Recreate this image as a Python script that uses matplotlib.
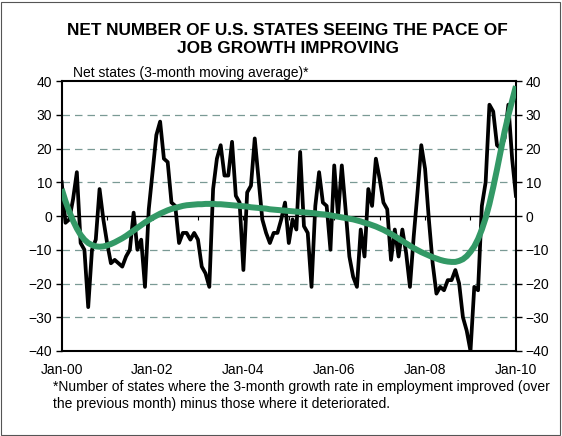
import numpy as np
import matplotlib
matplotlib.use("Agg")
from matplotlib import pyplot as plt
from matplotlib.patches import Rectangle

plt.rcParams['font.family'] = ['Liberation Sans', 'DejaVu Sans']

# monthly readings, Jan-00 .. Jan-10
net_states = [10, -2, -1, 5, 13, -8, -10, -27, -10, -7,
              8, -1, -8, -14, -13, -14, -15, -12, -10, 1,
              -10, -7, -21, 2, 13, 24, 28, 17, 16, 4,
              3, -8, -5, -5, -7, -5, -7, -15, -17, -21,
              8, 17, 21, 12, 12, 22, 6, 4, -16, 7,
              9, 23, 11, -1, -5, -8, -5, -5, -1, 4,
              -8, -1, -4, 19, -3, -5, -21, 3, 13, 4,
              3, -10, 15, 0, 15, 2, -12, -18, -21, -4,
              -12, 8, 3, 17, 11, 4, 2, -13, -4, -12,
              -4, -11, -21, -6, 7, 21, 14, -1, -14, -23,
              -21, -22, -19, -19, -16, -20, -30, -34, -40, -21,
              -22, 3, 10, 33, 31, 21, 20, 23, 33, 17,
              6]

trend = [8.0, 4.4, 1.3, -1.4, -3.7, -5.6, -7.0, -8.0, -8.6, -9.0,
         -9.1, -9.0, -8.7, -8.3, -7.8, -7.2, -6.6, -5.9, -5.1, -4.3,
         -3.5, -2.7, -1.9, -1.2, -0.5, 0.1, 0.7, 1.2, 1.7, 2.1,
         2.4, 2.7, 3.0, 3.2, 3.3, 3.4, 3.5, 3.5, 3.6, 3.6,
         3.6, 3.5, 3.5, 3.4, 3.3, 3.2, 3.1, 3.0, 2.9, 2.8,
         2.6, 2.5, 2.4, 2.3, 2.2, 2.0, 1.9, 1.8, 1.7, 1.6,
         1.5, 1.4, 1.3, 1.2, 1.1, 1.0, 0.9, 0.8, 0.6, 0.5,
         0.4, 0.2, 0.0, -0.2, -0.4, -0.6, -0.8, -1.0, -1.3, -1.6,
         -2.0, -2.3, -2.7, -3.1, -3.6, -4.1, -4.7, -5.3, -6.0, -6.7,
         -7.4, -8.1, -8.8, -9.5, -10.1, -10.7, -11.2, -11.7, -12.2, -12.6,
         -13.0, -13.3, -13.5, -13.6, -13.6, -13.3, -12.8, -11.9, -10.6, -9.0,
         -6.8, -4.0, -0.6, 3.6, 8.5, 13.8, 19.4, 25.0, 29.8, 34.2,
         38.5]

tick_labels = ['Jan-00', 'Jan-02', 'Jan-04', 'Jan-06', 'Jan-08', 'Jan-10']
y_ticks = [-40, -30, -20, -10, 0, 10, 20, 30, 40]

months = np.arange(len(net_states))

fig = plt.figure(figsize=(5.62, 4.36), dpi=100)
ax = fig.add_axes([0.1098, 0.195, 0.8082, 0.619])

for y in y_ticks[1:-1]:
    if y != 0:
        ax.axhline(y, color='#7a9a95', lw=0.9, ls=(0, (6, 4)), zorder=1)
ax.axhline(0, color='black', lw=1.0, zorder=2)
ax.vlines(months[12::12][:-1], -1.3, 0, color='black', lw=0.8, zorder=2)

ax.plot(months, net_states, color='black', lw=2.7, zorder=3)
ax.plot(months, trend, color='#339966', lw=4.3, zorder=4, solid_capstyle='butt')

ax.set_xlim(0, 120)
ax.set_ylim(-40, 40)
ax.set_xticks(months[::24])
ax.set_xticklabels(tick_labels, fontsize=10)
ax.tick_params(axis='x', length=0, pad=9)
ax.set_yticks(y_ticks)
ax.tick_params(axis='y', labelsize=10, direction='out', length=4, width=1, pad=3,
               left=True, right=True, labelleft=True, labelright=True)
for s in ax.spines.values():
    s.set_linewidth(1.5)

ax.text(0.025, 1.005, 'Net states (3-month moving average)*', transform=ax.transAxes,
        fontsize=10, ha='left', va='bottom')

fig.text(0.512, 0.909, 'NET NUMBER OF U.S. STATES SEEING THE PACE OF\nJOB GROWTH IMPROVING',
         ha='center', va='center', fontsize=12.4, fontweight='bold', linespacing=1.2)

fig.text(0.094, 0.129, '*Number of states where the 3-month growth rate in employment improved (over\n'
         'the previous month) minus those where it deteriorated.',
         ha='left', va='top', fontsize=10, linespacing=1.32)

fig.patches.append(Rectangle((0.002, 0.002), 0.994, 0.993, transform=fig.transFigure,
                             fill=False, edgecolor='#555555', lw=0.8))

fig.savefig('out.png', dpi=100)
